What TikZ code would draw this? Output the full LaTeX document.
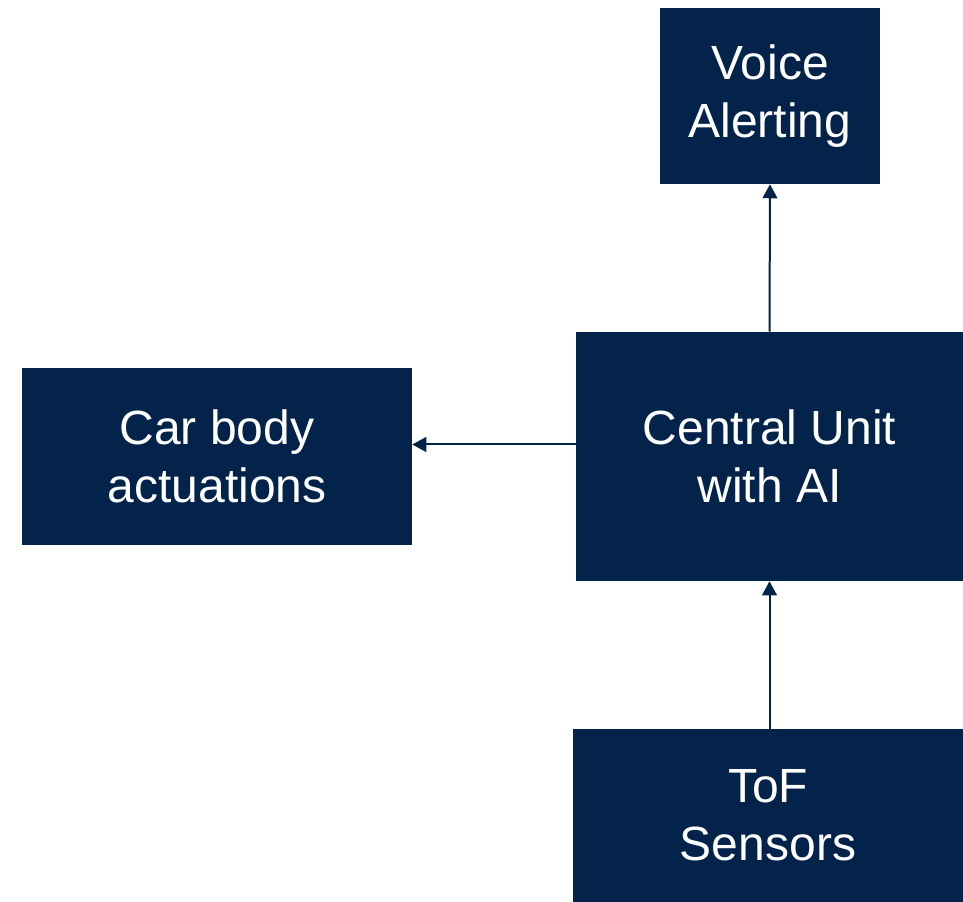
\documentclass[tikz,border=0pt]{standalone}
\usepackage{fontspec}
\setmainfont{Liberation Sans}
\usetikzlibrary{arrows.meta}
\definecolor{navy}{RGB}{3,35,75}

\begin{document}
\begin{tikzpicture}[x=0.75pt,y=0.75pt,>={Triangle[length=10.5pt,width=11pt]},
  block/.style={fill=navy,text=white,inner sep=0pt,align=center,
    font=\fontsize{36}{43.5}\selectfont},
  link/.style={->,draw=navy,line width=1.5pt}]
  \useasboundingbox (0,0) rectangle (963,902);
  \node[block,minimum width=165pt,minimum height=132pt] (voice) at (770,806) {Voice\\Alerting};
  \node[block,minimum width=290.25pt,minimum height=186.75pt] (central) at (769.5,445.5) {Central Unit\\with AI};
  \node[block,minimum width=292.5pt,minimum height=132.75pt] (car) at (217,445.5) {Car body\\actuations};
  \node[block,minimum width=292.5pt,minimum height=129.75pt] (tof) at (768,86.5) {ToF\\Sensors};
  \draw[link] (central.north) -- (voice.south);
  \draw[link] ([yshift=9pt]central.west) -- ([yshift=9pt]car.east);
  \draw[link] (tof.north -| central.south) -- (central.south);
\end{tikzpicture}
\end{document}
